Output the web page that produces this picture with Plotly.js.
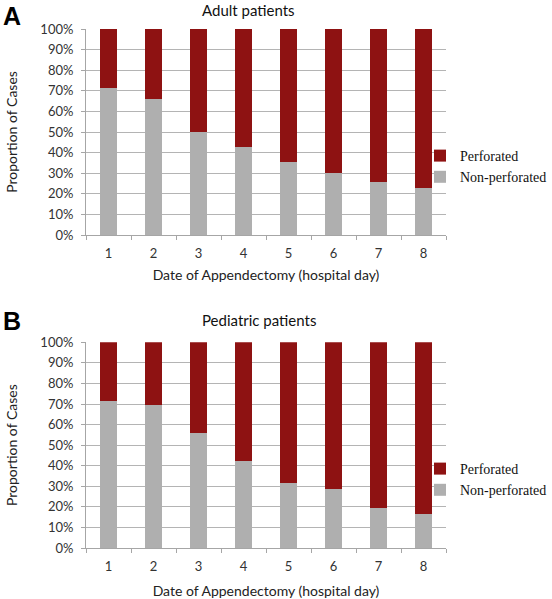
<!DOCTYPE html>
<html><head><meta charset="utf-8">
<script src="https://cdn.plot.ly/plotly-3.0.1.min.js"></script>
<style>html,body{margin:0;padding:0;background:#fff}#chart{width:552px;height:599px}</style>
</head><body><div id="chart"></div>
<script>
var days = ["1","2","3","4","5","6","7","8"];
var adultNonPerf = [71.5, 65.9, 49.8, 42.7, 35.6, 29.9, 25.6, 22.7];
var adultPerf = adultNonPerf.map(function(v){return 100 - v;});
var pedNonPerf = [71.4, 69.4, 55.8, 42.4, 31.4, 28.8, 19.6, 16.4];
var pedPerf = pedNonPerf.map(function(v){return 100 - v;});
var seriesNames = ["Non-perforated", "Perforated"];
var colGrey = "#afafaf", colRed = "#8e1212";

var W = 552, H = 599;
function px(v){return v / W;}
function py(v){return 1 - v / H;}

var traces = [
  {type:"bar", x:days, y:adultNonPerf, name:seriesNames[0], marker:{color:colGrey}, xaxis:"x", yaxis:"y", legend:"legend", hoverinfo:"y"},
  {type:"bar", x:days, y:adultPerf, name:seriesNames[1], marker:{color:colRed}, xaxis:"x", yaxis:"y", legend:"legend", hoverinfo:"y"},
  {type:"bar", x:days, y:pedNonPerf, name:seriesNames[0], marker:{color:colGrey}, xaxis:"x2", yaxis:"y2", legend:"legend2", hoverinfo:"y"},
  {type:"bar", x:days, y:pedPerf, name:seriesNames[1], marker:{color:colRed}, xaxis:"x2", yaxis:"y2", legend:"legend2", hoverinfo:"y"}
];

var tickFont = {family:"Lato, 'Open Sans', sans-serif", size:13, color:"#333"};
function xax(anchor, standoff){
  return {anchor:anchor, domain:[px(86), px(446)], type:"category",
    showline:true, linecolor:"#a6a6a6", linewidth:1, ticks:"outside", tickson:"boundaries",
    ticklen:4, tickcolor:"#a6a6a6", showgrid:false, tickfont:tickFont, ticklabelstandoff:6,
    title:{text:"Date of Appendectomy (hospital day)", font:{family:"Lato, sans-serif", size:14, color:"#222"}, standoff:standoff},
    fixedrange:true};
}
function yax(anchor, top, bottom){
  return {anchor:anchor, domain:[py(bottom), py(top)], range:[0,100], dtick:10, ticksuffix:"%",
    showline:true, linecolor:"#a6a6a6", linewidth:1, ticks:"outside", ticklen:4, tickcolor:"#a6a6a6",
    showgrid:true, gridcolor:"#b4b4b4", gridwidth:1, zeroline:false, tickfont:tickFont, ticklabelstandoff:5,
    title:{text:"Proportion of Cases", font:{family:"Lato, sans-serif", size:14, color:"#222"}, standoff:19},
    fixedrange:true};
}
var legFont = {family:"'Liberation Serif', 'Times New Roman', serif", size:14, color:"#111"};
var layout = {
  width:W, height:H, margin:{l:0, r:0, t:0, b:0}, paper_bgcolor:"#fff", plot_bgcolor:"#fff",
  barmode:"stack", bargap:0.61, showlegend:true,
  xaxis:xax("y", 10), yaxis:yax("x", 29, 235),
  xaxis2:xax("y2", 14), yaxis2:yax("x2", 342.3, 548),
  legend:{x:px(420), xanchor:"left", y:py(166.5), yanchor:"middle", traceorder:"reversed", font:legFont, bgcolor:"rgba(0,0,0,0)"},
  legend2:{x:px(420), xanchor:"left", y:py(479.5), yanchor:"middle", traceorder:"reversed", font:legFont, bgcolor:"rgba(0,0,0,0)"},
  annotations:[
    {text:"Adult patients", x:px(248.5), y:py(10), xref:"paper", yref:"paper", showarrow:false, xanchor:"center", yanchor:"middle", font:{family:"Lato, sans-serif", size:15, color:"#111"}},
    {text:"Pediatric patients", x:px(258.6), y:py(320), xref:"paper", yref:"paper", showarrow:false, xanchor:"center", yanchor:"middle", font:{family:"Lato, sans-serif", size:15, color:"#111"}},
    {text:"<b>A</b>", x:px(1), y:py(16), xref:"paper", yref:"paper", showarrow:false, xanchor:"left", yanchor:"middle", font:{family:"'Liberation Sans', Arial, sans-serif", size:25, color:"#000"}},
    {text:"<b>B</b>", x:px(1), y:py(321), xref:"paper", yref:"paper", showarrow:false, xanchor:"left", yanchor:"middle", font:{family:"'Liberation Sans', Arial, sans-serif", size:25, color:"#000"}}
  ]
};
Plotly.newPlot("chart", traces, layout, {displayModeBar:false, staticPlot:true});
</script></body></html>
